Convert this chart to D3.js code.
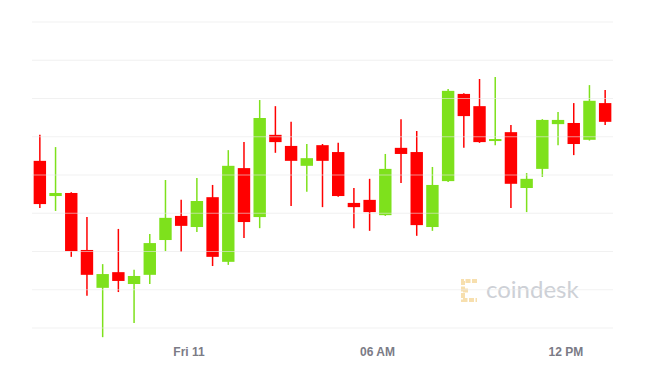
<!DOCTYPE html>
<html>
<head>
<meta charset="utf-8">
<script src="https://cdn.jsdelivr.net/npm/d3@7"></script>
<style>
  body { margin: 0; background: #fff; }
  svg { display: block; font-family: "Helvetica Neue", Arial, "Liberation Sans", sans-serif; }
  .tick-label { font-size: 12px; font-weight: bold; fill: #7b7b86; }
</style>
</head>
<body>
<svg width="650" height="388"></svg>
<script>
// 30 minute candles, first one opens Thu 10 19:00
var startTime = new Date(2022, 2, 10, 19, 0);
var open  = [39037, 38945, 38953, 38804, 38705, 38746, 38715, 38739, 38830, 38893, 38864, 38942, 38773, 39018, 38890, 39105, 39076, 39024, 39078, 39060, 38927, 38935, 38895, 39071, 39060, 38864, 38984, 39212, 39180, 39089, 39112, 38966, 39016, 39133, 39136, 39092, 39188];
var high  = [39105, 39073, 38955, 38890, 38767, 38859, 38752, 38846, 38987, 38935, 38992, 38974, 39065, 39086, 39196, 39180, 39139, 39081, 39081, 39084, 38966, 38990, 39055, 39146, 39115, 39021, 39225, 39214, 39251, 39256, 39131, 39005, 39146, 39165, 39188, 39235, 39222];
var low   = [38914, 38906, 38786, 38684, 38576, 38694, 38613, 38715, 38801, 38799, 38851, 38762, 38765, 38835, 38861, 39058, 38919, 38956, 38916, 38943, 38861, 38854, 38893, 38979, 38841, 38854, 38982, 39071, 39084, 39078, 38914, 38903, 38995, 39078, 39052, 39090, 39131];
var close = [38924, 38953, 38801, 38739, 38741, 38723, 38736, 38822, 38888, 38867, 38932, 38786, 39024, 38877, 39149, 39086, 39037, 39044, 39037, 38945, 38916, 38903, 39016, 39055, 38869, 38974, 39220, 39154, 39086, 39094, 38977, 38990, 39144, 39144, 39081, 39194, 39139];
var priceTicks = [38600, 38700, 38800, 38900, 39000, 39100, 39200, 39300, 39400];
var timeTicks = [new Date(2022, 2, 11, 0, 0), new Date(2022, 2, 11, 6, 0), new Date(2022, 2, 11, 12, 0)];
var tickLabels = ["Fri 11", "06 AM", "12 PM"];

var step = 30 * 60 * 1000;
var data = open.map(function(o, i) {
    return { t: new Date(+startTime + i * step), open: o, high: high[i], low: low[i], close: close[i] };
});

var svg = d3.select("svg");
var plotLeft = 32, plotRight = 613, plotTop = 22, plotBottom = 328;

var xScale = d3.scaleTime()
    .domain([startTime, new Date(+startTime + data.length * step)])
    .range([plotLeft, plotRight]);
var yScale = d3.scaleLinear()
    .domain([priceTicks[0], priceTicks[priceTicks.length - 1]])
    .range([plotBottom, plotTop]);

var band = xScale(new Date(+startTime + step)) - xScale(startTime);
var bodyW = band * 0.79;
function cx(d) { return xScale(new Date(+d.t + step / 2)); }
function color(d) { return d.close >= d.open ? "#7ee11c" : "#ff0000"; }

// watermark
var wm = svg.append("g").attr("transform", "translate(460,279)");
wm.append("path")
    .attr("d", "M17,2 H3 V21 H17 M3,11.5 H9")
    .attr("fill", "none")
    .attr("stroke", "#f7dfae")
    .attr("stroke-width", 4)
    .attr("stroke-dasharray", "5,1.5");
svg.append("text")
    .attr("x", 486).attr("y", 298)
    .attr("font-size", 24)
    .attr("fill", "#cdd0d6")
    .attr("font-family", "Lato, 'Open Sans', sans-serif")
    .text("coindesk");

var candles = svg.append("g").selectAll("g")
    .data(data)
    .enter()
    .append("g");

candles.append("line")
    .attr("x1", cx).attr("x2", cx)
    .attr("y1", (d) => yScale(d.high))
    .attr("y2", (d) => yScale(d.low))
    .attr("stroke", color)
    .attr("stroke-width", 1.5);

candles.append("rect")
    .attr("x", (d) => cx(d) - bodyW / 2)
    .attr("y", (d) => yScale(Math.max(d.open, d.close)))
    .attr("width", bodyW)
    .attr("height", (d) => Math.max(2, Math.abs(yScale(d.open) - yScale(d.close))))
    .attr("fill", color);

// grid lines drawn over the candles, faint
svg.append("g").selectAll("line")
    .data(priceTicks)
    .enter()
    .append("line")
    .attr("x1", plotLeft).attr("x2", plotRight)
    .attr("y1", (d) => yScale(d)).attr("y2", (d) => yScale(d))
    .attr("stroke", "#e8e8e8")
    .attr("stroke-opacity", 0.6)
    .attr("stroke-width", 1);

svg.append("g").selectAll("text")
    .data(timeTicks)
    .enter()
    .append("text")
    .attr("class", "tick-label")
    .attr("x", (d) => xScale(d))
    .attr("y", 356)
    .attr("text-anchor", "middle")
    .text((d, i) => tickLabels[i]);
</script>
</body>
</html>
